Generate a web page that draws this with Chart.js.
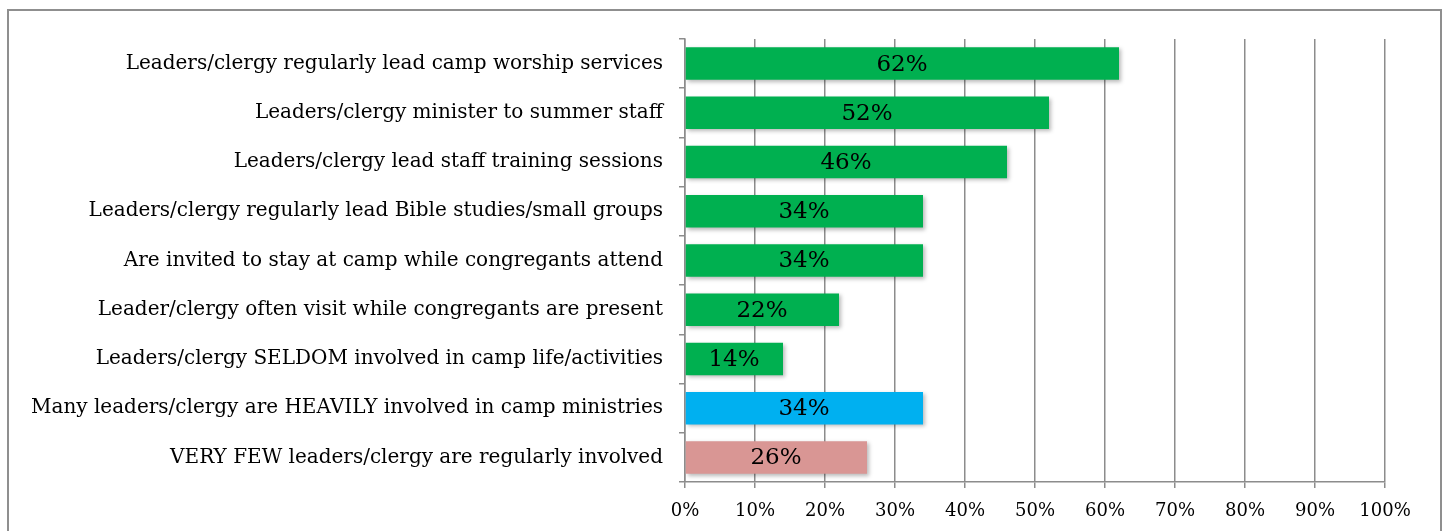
<!DOCTYPE html>
<html>
<head>
<meta charset="utf-8">
<script src="https://cdn.jsdelivr.net/npm/chart.js@4.4.0/dist/chart.umd.min.js"></script>
<style>
  html, body { margin: 0; padding: 0; background: #fff; overflow: hidden; }
  #wrap { position: relative; width: 1445px; height: 531px; }
  #frame { position: absolute; left: 7px; top: 9px; width: 1431px; height: 540px; border: 2px solid #8f8f8f; box-sizing: content-box; }
  canvas { position: absolute; left: 0; top: 0; }
</style>
</head>
<body>
<div id="wrap">
  <div id="frame"></div>
  <canvas id="c" width="1445" height="531"></canvas>
</div>
<script>
const categories = [
  "Leaders/clergy regularly lead camp worship services",
  "Leaders/clergy minister to summer staff",
  "Leaders/clergy lead staff training sessions",
  "Leaders/clergy regularly lead Bible studies/small groups",
  "Are invited to stay at camp while congregants attend",
  "Leader/clergy often visit while congregants are present",
  "Leaders/clergy SELDOM involved in camp life/activities",
  "Many leaders/clergy are HEAVILY involved in camp ministries",
  "VERY FEW leaders/clergy are regularly involved"
];
const values = [62, 52, 46, 34, 34, 22, 14, 34, 26];
const barColors = ["#00B050","#00B050","#00B050","#00B050","#00B050","#00B050","#00B050","#00B0F0","#D99694"];
const xTicks = [0,10,20,30,40,50,60,70,80,90,100];

const FONT = "'DejaVu Serif', serif";

const shadowPlugin = {
  id: 'shadow',
  beforeDatasetsDraw(chart) {
    const ctx = chart.ctx;
    ctx.save();
    ctx.shadowColor = 'rgba(0,0,0,0.28)';
    ctx.shadowBlur = 4;
    ctx.shadowOffsetX = 2;
    ctx.shadowOffsetY = 2;
  },
  afterDatasetsDraw(chart) {
    chart.ctx.restore();
  }
};

const labelPlugin = {
  id: 'valueLabels',
  afterDatasetsDraw(chart) {
    const ctx = chart.ctx;
    const meta = chart.getDatasetMeta(0);
    ctx.save();
    ctx.shadowColor = 'transparent';
    ctx.font = "23px " + FONT;
    ctx.fillStyle = '#000';
    ctx.textAlign = 'center';
    ctx.textBaseline = 'middle';
    meta.data.forEach((bar, i) => {
      const x0 = chart.scales.x.getPixelForValue(0);
      ctx.fillText(values[i] + '%', (x0 + bar.x) / 2, bar.y + 1);
    });
    ctx.restore();
  }
};

new Chart(document.getElementById('c'), {
  type: 'bar',
  data: {
    labels: categories,
    datasets: [{
      data: values,
      backgroundColor: barColors,
      borderWidth: 0,
      categoryPercentage: 0.66,
      barPercentage: 1.0
    }]
  },
  options: {
    indexAxis: 'y',
    responsive: false,
    animation: false,
    layout: { padding: { left: 0, right: 60, top: 39, bottom: 0 } },
    plugins: { legend: { display: false }, tooltip: { enabled: false } },
    scales: {
      x: {
        min: 0, max: 100,
        afterBuildTicks(scale) { scale.ticks = xTicks.map(v => ({ value: v })); },
        afterFit(scale) { scale.height = 49; },
        grid: { color: '#8c8c8c', lineWidth: 1.5, tickLength: 6, drawTicks: true },
        border: { display: true, color: '#8c8c8c', width: 1.5 },
        ticks: {
          color: '#000',
          font: { family: FONT, size: 18 },
          padding: 13,
          maxRotation: 0,
          callback: v => v + '%'
        }
      },
      y: {
        afterFit(scale) { scale.width = 685; },
        grid: { drawOnChartArea: false, drawTicks: true, tickLength: 6, color: '#8c8c8c', lineWidth: 1.5, offset: true },
        border: { display: true, color: '#8c8c8c', width: 1.5 },
        ticks: {
          color: '#000',
          font: { family: FONT, size: 20 },
          padding: 16,
          autoSkip: false
        }
      }
    }
  },
  plugins: [shadowPlugin, labelPlugin]
});
</script>
</body>
</html>
